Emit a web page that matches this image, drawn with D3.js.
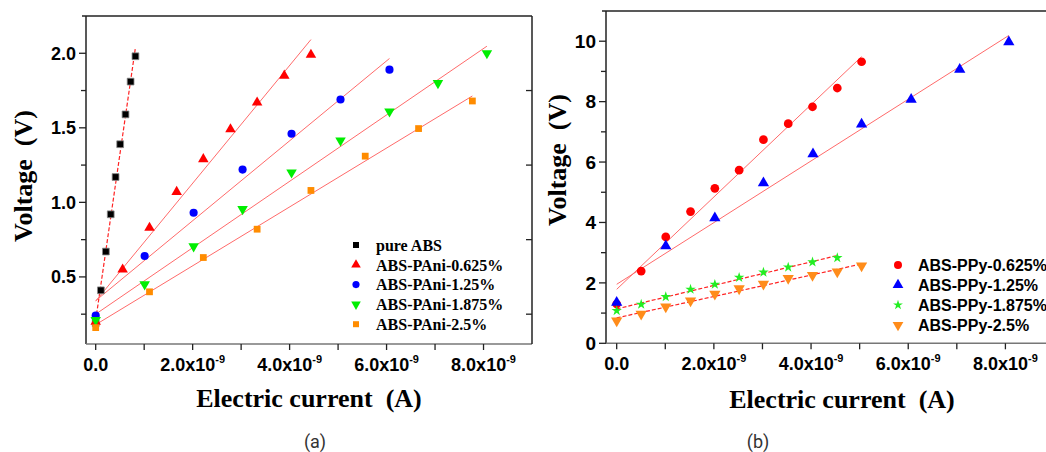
<!DOCTYPE html>
<html><head><meta charset="utf-8">
<script src="https://cdn.jsdelivr.net/npm/d3@7"></script>
<style>body{margin:0;background:#fff}</style>
</head><body><svg id="chart" width="1046" height="452"></svg>
<script>
// Current in units of 1e-9 A, voltage in V.
// Panel (a): ABS with polyaniline
const pureAbsI   = [0, 0.107, 0.21, 0.31, 0.41, 0.505, 0.615, 0.72, 0.82];
const pureAbsV   = [0.19, 0.41, 0.67, 0.92, 1.17, 1.39, 1.59, 1.81, 1.98];
const pani0625I  = [0, 0.556, 1.11, 1.67, 2.22, 2.78, 3.33, 3.89, 4.44];
const pani0625V  = [0.2, 0.55, 0.83, 1.07, 1.29, 1.49, 1.67, 1.85, 1.99];
const pani125I   = [0, 1.01, 2.02, 3.03, 4.04, 5.05, 6.06];
const pani125V   = [0.24, 0.64, 0.93, 1.22, 1.46, 1.69, 1.89];
const pani1875I  = [0, 1.01, 2.02, 3.03, 4.04, 5.05, 6.06, 7.06, 8.07];
const pani1875V  = [0.21, 0.45, 0.705, 0.955, 1.2, 1.415, 1.61, 1.8, 2.0];
const pani25I    = [0, 1.11, 2.22, 3.33, 4.44, 5.56, 6.66, 7.77];
const pani25V    = [0.16, 0.4, 0.63, 0.82, 1.08, 1.31, 1.495, 1.68];

// Panel (b): ABS with polypyrrole
const ppy0625I = [0, 0.504, 1.01, 1.52, 2.02, 2.52, 3.02, 3.53, 4.03, 4.54, 5.04];
const ppy0625V = [1.3, 2.39, 3.52, 4.36, 5.13, 5.73, 6.74, 7.27, 7.83, 8.45, 9.32];
const ppy125I  = [0, 1.01, 2.02, 3.02, 4.04, 5.04, 6.06, 7.06, 8.07];
const ppy125V  = [1.35, 3.22, 4.15, 5.31, 6.27, 7.25, 8.07, 9.06, 9.97];
const ppy1875I = [0, 0.504, 1.01, 1.52, 2.02, 2.52, 3.02, 3.53, 4.03, 4.54];
const ppy1875V = [1.08, 1.29, 1.54, 1.785, 1.95, 2.18, 2.35, 2.52, 2.69, 2.83];
const ppy25I   = [0, 0.504, 1.01, 1.52, 2.02, 2.52, 3.02, 3.53, 4.03, 4.54, 5.04];
const ppy25V   = [0.75, 0.97, 1.21, 1.41, 1.63, 1.81, 1.96, 2.15, 2.25, 2.37, 2.57];

const namesA = ["pure ABS", "ABS-PAni-0.625%", "ABS-PAni-1.25%", "ABS-PAni-1.875%", "ABS-PAni-2.5%"];
const namesB = ["ABS-PPy-0.625%", "ABS-PPy-1.25%", "ABS-PPy-1.875%", "ABS-PPy-2.5%"];

const xTicks = [0, 2, 4, 6, 8];
const xMinorTicks = [1, 3, 5, 7];
const yTicksA = [0.5, 1.0, 1.5, 2.0];
const yMinorA = [0.25, 0.75, 1.25, 1.75];
const yTicksB = [0, 2, 4, 6, 8, 10];
const yMinorB = [1, 3, 5, 7, 9];

const svg = d3.select("#chart");
const SANS = "'Liberation Sans', Arial, sans-serif";
const SERIF = "'Liberation Serif', 'Times New Roman', serif";
const FRAME = "#222";

// least-squares line through a series
function fit(xs, ys) {
  const mx = d3.mean(xs), my = d3.mean(ys);
  let sxy = 0, sxx = 0;
  xs.forEach((x, i) => { sxy += (x - mx) * (ys[i] - my); sxx += (x - mx) * (x - mx); });
  const b = sxy / sxx, a = my - b * mx;
  const [x0, x1] = d3.extent(xs);
  return [[x0, a + b * x0], [x1, a + b * x1]];
}

function sym(type, size, rot) {
  return { path: d3.symbol().type(type).size(size)(), rot: rot || 0 };
}

function drawPanel(cfg) {
  const g = svg.append("g");
  const x = d3.scaleLinear().domain(cfg.xDomain).range(cfg.xRange);
  const y = d3.scaleLinear().domain(cfg.yDomain).range(cfg.yRange);
  const [L, R] = cfg.xRange, [B, T] = cfg.yRange;

  // frame
  g.append("line").attr("x1", L).attr("x2", L).attr("y1", T).attr("y2", B)
    .attr("stroke", FRAME).attr("stroke-width", 1.5);
  g.append("line").attr("x1", L - 4).attr("x2", Math.min(R, 1046)).attr("y1", T).attr("y2", T)
    .attr("stroke", FRAME).attr("stroke-width", 1.5);
  g.append("line").attr("x1", L).attr("x2", R).attr("y1", B).attr("y2", B)
    .attr("stroke", "#777").attr("stroke-width", 1.5);
  if (cfg.rightFrame) {
    g.append("line").attr("x1", R).attr("x2", R).attr("y1", T).attr("y2", B)
      .attr("stroke", FRAME).attr("stroke-width", 1.5);
    g.selectAll(".rtick").data(cfg.yMinor).enter().append("line")
      .attr("x1", R - 6).attr("x2", R).attr("y1", d => y(d)).attr("y2", d => y(d))
      .attr("stroke", FRAME).attr("stroke-width", 1.3);
  }

  // left axis ticks (outward)
  g.selectAll(".ytick").data(cfg.yTicks).enter().append("line")
    .attr("x1", L - 7).attr("x2", L).attr("y1", d => y(d)).attr("y2", d => y(d))
    .attr("stroke", FRAME).attr("stroke-width", 1.3);
  g.selectAll(".yminor").data(cfg.yMinor).enter().append("line")
    .attr("x1", L - 5).attr("x2", L).attr("y1", d => y(d)).attr("y2", d => y(d))
    .attr("stroke", FRAME).attr("stroke-width", 1.3);
  g.selectAll(".ylab").data(cfg.yTicks).enter().append("text")
    .attr("x", L - 10).attr("y", d => y(d)).attr("dy", "0.36em")
    .attr("text-anchor", "end").attr("font-family", SANS).attr("font-weight", "bold")
    .attr("font-size", cfg.yTickSize).text(cfg.yFormat);

  // bottom axis ticks (outward)
  g.selectAll(".xtick").data(xTicks.concat(xMinorTicks)).enter().append("line")
    .attr("x1", d => x(d)).attr("x2", d => x(d)).attr("y1", B).attr("y2", B + 6)
    .attr("stroke", FRAME).attr("stroke-width", 1.3);
  const xl = g.selectAll(".xlab").data(xTicks).enter().append("text")
    .attr("x", d => x(d)).attr("y", B + 27).attr("text-anchor", "middle")
    .attr("font-family", SANS).attr("font-weight", "bold").attr("font-size", 18);
  xl.append("tspan").text(d => d.toFixed(1) + (d === 0 ? "" : "x10"));
  xl.filter(d => d !== 0).append("tspan").attr("dy", -8).attr("font-size", 11).text("-9");

  // axis titles
  g.append("text").attr("x", cfg.xTitle[0]).attr("y", cfg.xTitle[1]).attr("text-anchor", "middle")
    .attr("font-family", SERIF).attr("font-weight", "bold").attr("font-size", 26)
    .attr("xml:space", "preserve").text("Electric current  (A)");
  g.append("text").attr("transform", `translate(${cfg.yTitle[0]},${cfg.yTitle[1]}) rotate(-90)`)
    .attr("text-anchor", "middle").attr("dy", "0.35em")
    .attr("font-family", SERIF).attr("font-weight", "bold").attr("font-size", 26)
    .attr("xml:space", "preserve").text("Voltage  (V)");
  g.append("text").attr("x", cfg.caption[0]).attr("y", cfg.caption[1]).attr("text-anchor", "middle")
    .attr("font-family", "Roboto, sans-serif").attr("font-size", 18).attr("fill", "#333")
    .text(cfg.captionText);

  // fit lines
  cfg.series.forEach(s => {
    const pts = fit(s.xs, s.ys);
    g.append("line")
      .attr("x1", x(pts[0][0])).attr("y1", y(pts[0][1]))
      .attr("x2", x(pts[1][0])).attr("y2", y(pts[1][1]))
      .attr("stroke", s.dashed ? "#f22" : "#ff6a6a").attr("stroke-width", s.dashed ? 1.2 : 1)
      .attr("stroke-dasharray", s.dashed ? "4,2" : null);
  });

  // markers
  cfg.series.forEach(s => {
    g.append("g").selectAll("path").data(s.xs.map((v, i) => [v, s.ys[i]])).enter().append("path")
      .attr("d", s.marker.path)
      .attr("transform", d => `translate(${x(d[0])},${y(d[1])}) rotate(${s.marker.rot})`)
      .attr("fill", s.color).attr("stroke", s.stroke || "none").attr("stroke-width", 0.8);
  });

  // legend
  cfg.series.forEach((s, i) => {
    const ly = cfg.legend.y0 + i * cfg.legend.dy;
    g.append("path").attr("d", s.legendMarker.path)
      .attr("transform", `translate(${cfg.legend.mx},${ly}) rotate(${s.legendMarker.rot})`)
      .attr("fill", s.color);
    g.append("text").attr("x", cfg.legend.tx).attr("y", ly).attr("dy", "0.36em")
      .attr("font-family", cfg.legend.font).attr("font-weight", "bold")
      .attr("font-size", cfg.legend.size).text(s.name);
  });
}

drawPanel({
  xDomain: [-0.2, 9.0], xRange: [86, 532],
  yDomain: [0.05, 2.25], yRange: [344, 16],
  yTicks: yTicksA, yMinor: yMinorA, yFormat: d => d.toFixed(1), yTickSize: 18,
  rightFrame: true,
  xTitle: [309, 407], yTitle: [23, 176], caption: [315, 448], captionText: "(a)",
  legend: { mx: 356, tx: 376, y0: 245, dy: 19.8, font: SERIF, size: 16 },
  series: [
    { name: namesA[0], xs: pureAbsI, ys: pureAbsV, color: "#000", stroke: "#888", dashed: true,
      marker: sym(d3.symbolSquare, 46), legendMarker: sym(d3.symbolSquare, 36) },
    { name: namesA[1], xs: pani0625I, ys: pani0625V, color: "#ff0000",
      marker: sym(d3.symbolTriangle, 48), legendMarker: sym(d3.symbolTriangle, 40) },
    { name: namesA[2], xs: pani125I, ys: pani125V, color: "#0000ff",
      marker: sym(d3.symbolCircle, 52), legendMarker: sym(d3.symbolCircle, 40) },
    { name: namesA[3], xs: pani1875I, ys: pani1875V, color: "#00ee00",
      marker: sym(d3.symbolTriangle, 48, 180), legendMarker: sym(d3.symbolTriangle, 40, 180) },
    { name: namesA[4], xs: pani25I, ys: pani25V, color: "#ff8c00",
      marker: sym(d3.symbolSquare, 46), legendMarker: sym(d3.symbolSquare, 36) }
  ]
});

drawPanel({
  xDomain: [-0.22, 9.0], xRange: [606, 1054],
  yDomain: [0, 11], yRange: [343.3, 11],
  yTicks: yTicksB, yMinor: yMinorB, yFormat: d => String(d), yTickSize: 19,
  rightFrame: false,
  xTitle: [842, 408], yTitle: [557, 160], caption: [758, 448], captionText: "(b)",
  legend: { mx: 898, tx: 918, y0: 265, dy: 20, font: SANS, size: 16 },
  series: [
    { name: namesB[0], xs: ppy0625I, ys: ppy0625V, color: "#ff0000",
      marker: sym(d3.symbolCircle, 60), legendMarker: sym(d3.symbolCircle, 50) },
    { name: namesB[1], xs: ppy125I, ys: ppy125V, color: "#0000ff",
      marker: sym(d3.symbolTriangle, 55), legendMarker: sym(d3.symbolTriangle, 50) },
    { name: namesB[2], xs: ppy1875I, ys: ppy1875V, color: "#22ee22", dashed: true,
      marker: sym(d3.symbolStar, 34), legendMarker: sym(d3.symbolStar, 30) },
    { name: namesB[3], xs: ppy25I, ys: ppy25V, color: "#ff8c1a", dashed: true,
      marker: sym(d3.symbolTriangle, 55, 180), legendMarker: sym(d3.symbolTriangle, 50, 180) }
  ]
});
</script>
</body></html>
